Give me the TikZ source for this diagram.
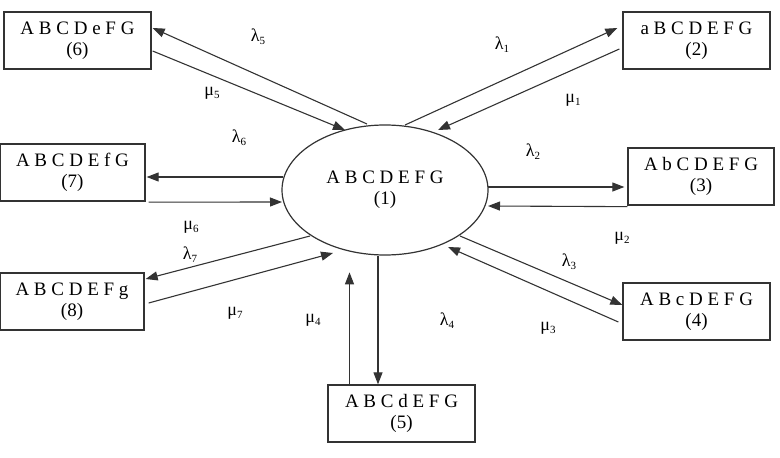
\documentclass[tikz,border=0pt]{standalone}
\usepackage{fontspec}
\setmainfont{Liberation Serif}
\usetikzlibrary{arrows.meta,calc,shapes.geometric}
\definecolor{ln}{HTML}{333333}
\newcommand\lbl[2]{#1\raisebox{-0.4ex}{\fontsize{11}{11}\selectfont #2}}
\begin{document}
\begin{tikzpicture}[x=1pt,y=-1pt,
  state/.style={draw=ln,line width=1.3pt,minimum width=147pt,minimum height=57pt,inner sep=0pt,
    align=center,font=\fontsize{19}{21}\selectfont},
  hub/.style={draw=ln,line width=1.2pt,ellipse,minimum width=206pt,minimum height=130pt,inner sep=0pt,
    align=center,font=\fontsize{19}{21}\selectfont},
  arr/.style={draw=ln,line width=1.1pt,-{Triangle[length=12pt,width=9pt]}},
  rate/.style={inner sep=0pt,font=\fontsize{18}{18}\selectfont}]
\useasboundingbox (0,0) rectangle (780,458);
\node[hub] (e) at (385,190) {A B C D E F G\\(1)};
\node[state] (n6) at (77.5,40.5) {A B C D e F G\\(6)};
\node[state] (n2) at (696.5,40.5) {a B C D E F G\\(2)};
\node[state,minimum width=145pt] (n7) at (72.5,172.5) {A B C D E f G\\(7)};
\node[state,minimum width=146pt] (n3) at (701,176.5) {A b C D E F G\\(3)};
\node[state,minimum width=144pt] (n8) at (72,301.5) {A B C D E F g\\(8)};
\node[state] (n4) at (696.5,311.5) {A B c D E F G\\(4)};
\node[state] (n5) at (401.5,413.5) {A B C d E F G\\(5)};
% connectors
\draw[arr] ($(e.center)+(-18,-66)$) -- ($(n6.east)+(1,-12.5)$);
\draw[arr] ($(n6.east)+(1,10.5)$) -- ($(e.center)+(-40,-60)$);
\draw[arr] ($(e.center)+(20,-65)$) -- ($(n2.west)+(-5,-12.5)$);
\draw[arr] ($(n2.west)+(-3,8.5)$) -- ($(e.center)+(53,-60)$);
\draw[arr] ($(e.center)+(-102,-13)$) -- ($(n7.east)+(1,4.5)$);
\draw[arr] ($(n7.south east)+(3,0.5)$) -- ($(e.center)+(-103,12)$);
\draw[arr] ($(e.center)+(103,-3)$) -- ($(n3.west)+(-3,10.5)$);
\draw[arr] ($(n3.south west)+(0,1)$) -- ($(e.center)+(103,16)$);
\draw[arr] ($(e.center)+(-75,46)$) -- ($(n8.east)+(1,-22.5)$);
\draw[arr] ($(n8.east)+(4,1.5)$) -- ($(e.center)+(-52,63)$);
\draw[arr] ($(e.center)+(75,46)$) -- ($(n4.west)+(0,-6.5)$);
\draw[arr] ($(n4.west)+(-4,10.5)$) -- ($(e.center)+(63,57)$);
\draw[arr] ($(e.south)+(-7,0)$) -- ($(n5.north)+(-23.5,0)$);
\draw[arr] ($(n5.north)+(-52,0)$) -- ($(n5.north)+(-52,-112)$);
% labels
\node[rate] (l5) at (258,37) {\lbl{λ}{5}};
\node[rate] (m5) at (212,93) {\lbl{μ}{5}};
\node[rate] (l6) at (239,138) {\lbl{λ}{6}};
\node[rate] (l1) at (502,45) {\lbl{λ}{1}};
\node[rate] (m1) at (573,100) {\lbl{μ}{1}};
\node[rate] (l2) at (533,152) {\lbl{λ}{2}};
\node[rate] (m6) at (191,227) {\lbl{μ}{6}};
\node[rate] (l7) at (190,255) {\lbl{λ}{7}};
\node[rate] (m7) at (235,313) {\lbl{μ}{7}};
\node[rate] (m4) at (313,320) {\lbl{μ}{4}};
\node[rate] (l4) at (447,321) {\lbl{λ}{4}};
\node[rate] (m2) at (622,238) {\lbl{μ}{2}};
\node[rate] (l3) at (569,262) {\lbl{λ}{3}};
\node[rate] (m3) at (548,328) {\lbl{μ}{3}};
\end{tikzpicture}
\end{document}
